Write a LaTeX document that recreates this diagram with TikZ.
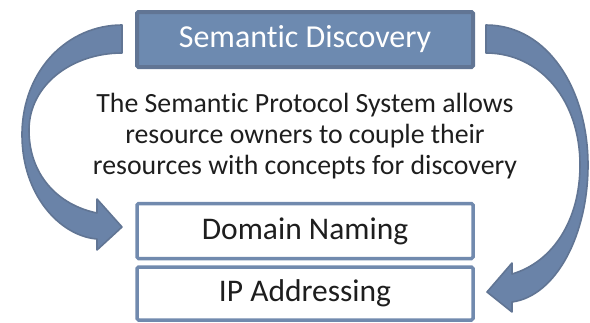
\documentclass[tikz,border=0pt]{standalone}
\usepackage{fontspec}
\setmainfont{Carlito}[Ligatures=CommonOff]
\definecolor{boxblue}{RGB}{109,138,176}
\definecolor{edgeblue}{RGB}{97,117,148}
\definecolor{lineblue}{RGB}{113,138,174}
\definecolor{arrowblue}{RGB}{106,131,168}
\definecolor{textgrey}{RGB}{30,30,30}
\tikzset{
  headbox/.style={draw=edgeblue,fill=boxblue,line width=4pt,rounded corners=1.5pt,
    minimum width=336pt,minimum height=55pt,text=white,font=\fontsize{32}{38}\selectfont},
  layerbox/.style={draw=lineblue,fill=white,line width=3.5pt,rounded corners=1.5pt,
    minimum width=336pt,text=textgrey,font=\fontsize{31.5}{38}\selectfont},
  bendarrow/.style={fill=arrowblue,draw=edgeblue,line width=1.6pt,line join=round}
}
\begin{document}
\begin{tikzpicture}[x=1pt,y=-1pt]
  \useasboundingbox (0,0) rectangle (590,322);

  \node[headbox] (disc) at (305,39.5) {Semantic Discovery};
  \node[align=center,text=textgrey,font=\fontsize{27.8}{31}\selectfont] (info) at (305,136)
    {The Semantic Protocol System allows\\resource owners to couple their\\resources with concepts for discovery};
  \node[layerbox,minimum height=55pt] (dns) at (305,231) {Domain Naming};
  \node[layerbox,minimum height=53pt] (ip) at (305,293.5) {IP Addressing};

  \draw[bendarrow] (122,25) .. controls (68,25) and (22,70) .. (22,135)
    .. controls (22,195) and (60,236) .. (97,239) -- (97,250) -- (122,227) -- (97,199)
    -- (97,213) .. controls (58,205) and (29,175) .. (29,130)
    .. controls (29,85) and (72,53) .. (122,53) -- cycle;

  \draw[bendarrow] (486,25) .. controls (548,25) and (588,90) .. (588,165)
    .. controls (588,235) and (556,296) .. (512,302) -- (512,312) -- (487,292) -- (512,263)
    -- (512,274) .. controls (553,262) and (580,220) .. (580,165)
    .. controls (580,100) and (540,53) .. (486,53) -- cycle;
\end{tikzpicture}
\end{document}
